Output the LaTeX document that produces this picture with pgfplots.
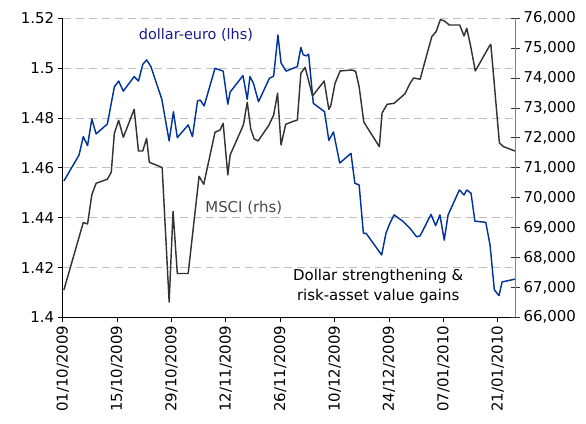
\documentclass[border=0pt]{standalone}
\usepackage{pgfplots}
\pgfplotsset{compat=1.18}
\usepackage{fontspec}
\setmainfont{DejaVu Sans}
\definecolor{usdblue}{RGB}{0,51,153}
\definecolor{lblblue}{RGB}{26,26,140}
\definecolor{mscigray}{RGB}{51,51,51}
\definecolor{gridgray}{RGB}{191,191,191}
\definecolor{raxis}{RGB}{128,128,128}

\pgfplotstableread{
day usd
0.3 1.4547
4.2 1.4651
5.3 1.4725
6.4 1.4689
7.5 1.4796
8.6 1.4736
11.5 1.4776
13.3 1.4925
14.4 1.4948
15.6 1.4908
18.4 1.4966
19.5 1.4948
20.6 1.5015
21.6 1.5033
22.7 1.5006
25.5 1.4876
27.4 1.4708
28.5 1.4825
29.5 1.4721
32.3 1.4772
33.4 1.4725
34.7 1.4868
35.4 1.4872
36.4 1.4848
39.2 1.4999
41.3 1.4988
42.5 1.4855
43.1 1.4904
46.4 1.4970
47.5 1.4875
48.2 1.4966
49.1 1.4939
50.4 1.4865
53.2 1.4959
54.3 1.4968
55.4 1.5133
56.2 1.5021
57.5 1.4988
60.4 1.5006
61.3 1.5083
61.9 1.5054
62.7 1.5049
63.3 1.5056
64.5 1.4859
67.4 1.4825
68.5 1.4710
69.7 1.4744
71.3 1.4619
74.2 1.4658
75.2 1.4538
76.3 1.4531
77.4 1.4337
78.1 1.4337
82.1 1.4250
83.2 1.4337
84.2 1.4377
85.3 1.4411
87.5 1.4386
88.7 1.4368
89.4 1.4357
91.1 1.4323
92.0 1.4327
94.8 1.4413
96.0 1.4368
97.1 1.4411
98.2 1.4310
99.2 1.4411
102.1 1.4511
103.3 1.4491
104.0 1.4511
105.1 1.4498
106.1 1.4386
108.9 1.4381
110.0 1.4290
111.1 1.4110
112.3 1.4087
113.1 1.4142
116.4 1.4153
}\usdtable

\pgfplotstableread{
day msci
0.3 66913
5.3 69171
6.4 69120
7.5 70100
8.6 70482
11.5 70619
12.5 70853
13.3 72154
14.4 72589
15.6 72020
18.4 72957
19.5 71562
20.6 71562
21.6 71987
22.3 71184
25.6 71010
27.4 66512
28.4 69545
29.5 67465
32.3 67465
35.1 70716
36.3 70448
39.2 72187
40.5 72264
41.3 72488
42.5 70759
43.1 71428
46.5 72431
47.5 73191
48.4 72298
49.3 71963
50.3 71896
53.1 72431
54.3 72766
55.3 73492
56.2 71763
57.4 72455
59.1 72542
60.4 72599
61.3 74161
62.4 74361
64.3 73401
67.3 73903
68.5 72957
69.0 73077
70.1 73826
71.4 74238
74.4 74271
75.4 74227
76.3 73712
77.5 72532
81.5 71706
82.2 72833
83.5 73124
85.3 73157
88.1 73475
89.4 73826
90.3 74003
92.0 73963
93.7 74773
95.0 75385
96.1 75552
97.2 75953
98.2 75916
99.5 75776
102.2 75776
103.3 75408
104.0 75666
105.0 75074
106.2 74238
109.8 75064
110.2 75131
112.4 71836
113.4 71712
116.4 71562
}\mscitable

\begin{document}
\begin{tikzpicture}[font=\fontsize{15}{19}\selectfont]
\path[use as bounding box] (-62.7bp,-106.7bp) rectangle (523.3bp,317.3bp);
\begin{axis}[
  at={(0,0)}, anchor=south west,
  scale only axis, width=453bp, height=299bp,
  xmin=0, xmax=116.6, ymin=1.4, ymax=1.52,
  axis x line*=bottom, axis y line*=left,
  axis line style={black, line width=0.9pt},
  xtick={0,14,28,42,56,70,84,98,112},
  xticklabels={01/10/2009,15/10/2009,29/10/2009,12/11/2009,26/11/2009,10/12/2009,24/12/2009,07/01/2010,21/01/2010},
  xticklabel style={rotate=90, anchor=east},
  ytick={1.4,1.42,1.44,1.46,1.48,1.5,1.52},
  yticklabel style={/pgf/number format/.cd, fixed, precision=2},
  /pgf/number format/assume math mode=true,
  tick align=outside, major tick length=5bp,
  major tick style={black, line width=0.9pt},
  ymajorgrids=true,
  grid style={gridgray, line width=0.8pt, dash pattern=on 8bp off 5bp},
  clip=false,
]
\addplot[usdblue, line width=1.45pt, line join=round] table[x=day, y=usd] {\usdtable};
\node[lblblue, font=\fontsize{14.5}{18}\selectfont] at (axis cs:34.3,1.5133) {dollar-euro (lhs)};
\node[mscigray!90!white] at (axis cs:46.6,1.4439) {MSCI (rhs)};
\node[black, align=center, font=\fontsize{15}{19.3}\selectfont] at (axis cs:81.2,1.4124) {Dollar strengthening \&\\risk-asset value gains};
\end{axis}
\begin{axis}[
  at={(0,0)}, anchor=south west,
  scale only axis, width=453bp, height=299bp,
  xmin=0, xmax=116.6, ymin=66000, ymax=76000,
  axis x line=none, axis y line*=right,
  y axis line style={draw=raxis, line width=1.3pt},
  ytick={66000,67000,68000,69000,70000,71000,72000,73000,74000,75000,76000},
  scaled y ticks=false,
  yticklabel style={/pgf/number format/.cd, fixed, 1000 sep={,}},
  /pgf/number format/assume math mode=true,
  tick align=center, major tick length=9bp,
  major tick style={black!80, line width=0.9pt},
]
\addplot[mscigray, line width=1.45pt, line join=round] table[x=day, y=msci] {\mscitable};
\end{axis}
\end{tikzpicture}
\end{document}
